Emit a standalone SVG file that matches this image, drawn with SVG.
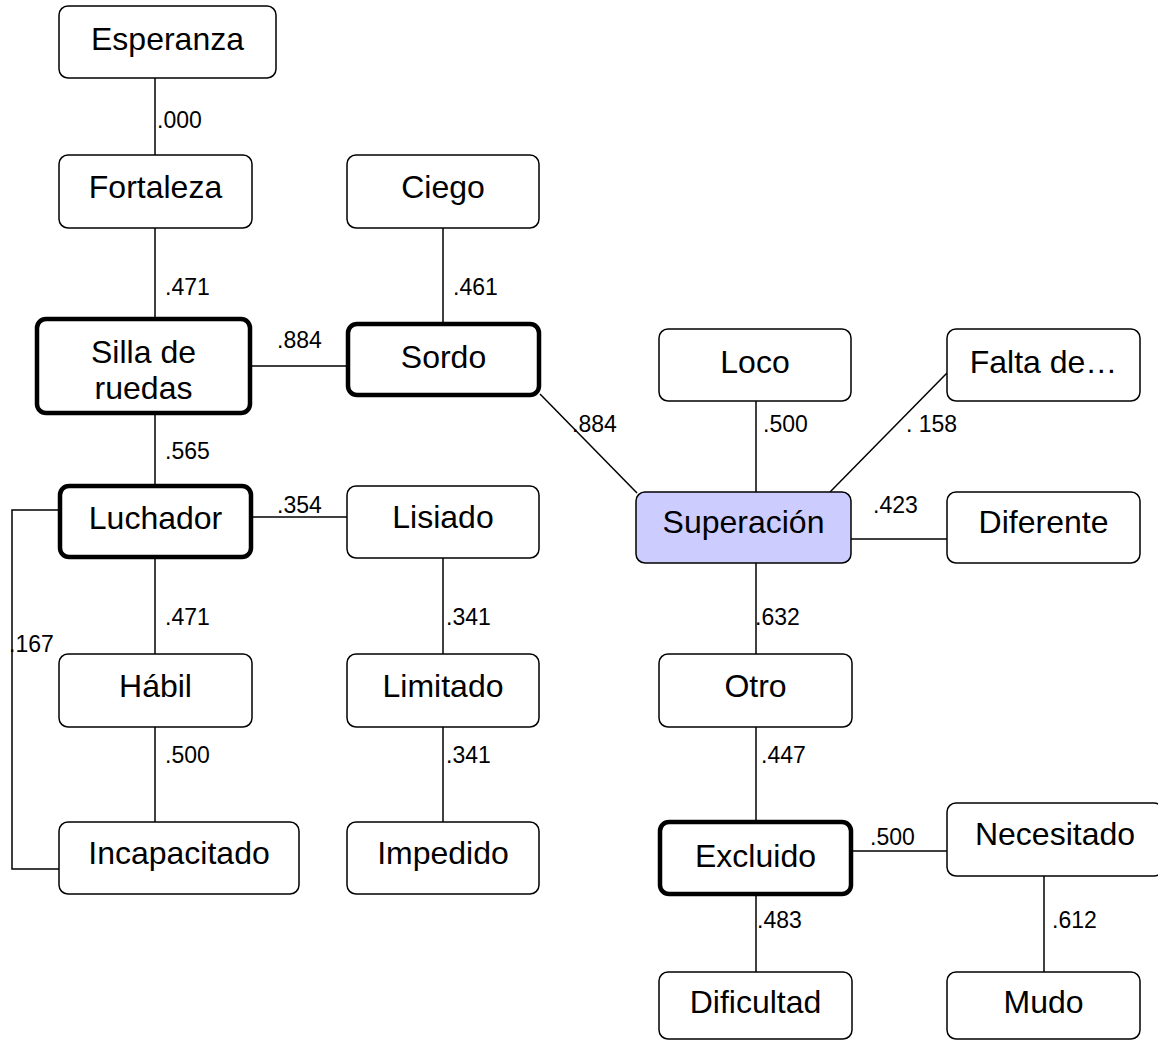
<svg xmlns="http://www.w3.org/2000/svg" width="1158" height="1040" viewBox="0 0 1158 1040">
<style>
.box{fill:#fff;stroke:#000;stroke-width:1.5}
.thick{fill:#fff;stroke:#000;stroke-width:4.5}
.hl{fill:#ccccff;stroke:#000;stroke-width:1.5}
.t{font-family:"Liberation Sans",Arial,sans-serif;font-size:32px;text-anchor:middle;fill:#000}
.l{font-family:"Liberation Sans",Arial,sans-serif;font-size:23px;fill:#000}
.c{fill:none;stroke:#000;stroke-width:1.5}
</style>
<rect width="1158" height="1040" fill="#fff"/>
<g id="connectors">
<line class="c" x1="155" y1="78" x2="155" y2="155"/>
<line class="c" x1="155" y1="228" x2="155" y2="317"/>
<line class="c" x1="443" y1="228" x2="443" y2="322"/>
<line class="c" x1="252" y1="366" x2="346" y2="366"/>
<line class="c" x1="155" y1="415" x2="155" y2="484"/>
<line class="c" x1="253" y1="517" x2="347" y2="517"/>
<line class="c" x1="155" y1="559" x2="155" y2="654"/>
<line class="c" x1="443" y1="558" x2="443" y2="654"/>
<polyline class="c" points="58,510 12,510 12,869 59,869"/>
<line class="c" x1="155" y1="727" x2="155" y2="822"/>
<line class="c" x1="443" y1="727" x2="443" y2="822"/>
<line class="c" x1="540" y1="394" x2="637" y2="493"/>
<line class="c" x1="756" y1="401" x2="756" y2="492"/>
<line class="c" x1="947" y1="373" x2="830" y2="492"/>
<line class="c" x1="851" y1="539" x2="947" y2="539"/>
<line class="c" x1="756" y1="563" x2="756" y2="654"/>
<line class="c" x1="756" y1="727" x2="756" y2="820"/>
<line class="c" x1="853" y1="851" x2="947" y2="851"/>
<line class="c" x1="756" y1="896" x2="756" y2="972"/>
<line class="c" x1="1044" y1="876" x2="1044" y2="972"/>
<text class="l" x="157" y="128">.000</text>
<text class="l" x="165" y="295">.471</text>
<text class="l" x="453" y="295">.461</text>
<text class="l" x="277" y="348">.884</text>
<text class="l" x="165" y="459">.565</text>
<text class="l" x="277" y="513">.354</text>
<text class="l" x="165" y="625">.471</text>
<text class="l" x="446" y="625">.341</text>
<text class="l" x="9" y="652">.167</text>
<text class="l" x="165" y="763">.500</text>
<text class="l" x="446" y="763">.341</text>
<text class="l" x="572" y="432">.884</text>
<text class="l" x="763" y="432">.500</text>
<text class="l" x="906" y="432">. 158</text>
<text class="l" x="873" y="513">.423</text>
<text class="l" x="755" y="625">.632</text>
<text class="l" x="761" y="763">.447</text>
<text class="l" x="870" y="845">.500</text>
<text class="l" x="757" y="928">.483</text>
<text class="l" x="1052" y="928">.612</text>
</g>
<g id="esperanza"><rect class="box" x="59" y="6" width="217" height="72" rx="9"/><text class="t" x="167.5" y="50">Esperanza</text></g>
<g id="fortaleza"><rect class="box" x="59" y="155" width="193" height="73" rx="9"/><text class="t" x="155.5" y="198">Fortaleza</text></g>
<g id="ciego"><rect class="box" x="347" y="155" width="192" height="73" rx="9"/><text class="t" x="443" y="198">Ciego</text></g>
<g id="silla"><rect class="thick" x="37" y="319" width="213" height="94" rx="9"/><text class="t" x="143.5" y="363">Silla de</text><text class="t" x="143.5" y="399">ruedas</text></g>
<g id="sordo"><rect class="thick" x="348" y="324" width="191" height="71" rx="9"/><text class="t" x="443.5" y="368">Sordo</text></g>
<g id="luchador"><rect class="thick" x="60" y="486" width="191" height="71" rx="9"/><text class="t" x="155.5" y="529">Luchador</text></g>
<g id="lisiado"><rect class="box" x="347" y="486" width="192" height="72" rx="9"/><text class="t" x="443" y="528">Lisiado</text></g>
<g id="habil"><rect class="box" x="59" y="654" width="193" height="73" rx="9"/><text class="t" x="155.5" y="697">Hábil</text></g>
<g id="limitado"><rect class="box" x="347" y="654" width="192" height="73" rx="9"/><text class="t" x="443" y="697">Limitado</text></g>
<g id="incapacitado"><rect class="box" x="59" y="822" width="240" height="72" rx="9"/><text class="t" x="179" y="864">Incapacitado</text></g>
<g id="impedido"><rect class="box" x="347" y="822" width="192" height="72" rx="9"/><text class="t" x="443" y="864">Impedido</text></g>
<g id="loco"><rect class="box" x="659" y="329" width="192" height="72" rx="9"/><text class="t" x="755" y="373">Loco</text></g>
<g id="falta"><rect class="box" x="947" y="329" width="193" height="72" rx="9"/><text class="t" x="1043.5" y="373">Falta de…</text></g>
<g id="superacion"><rect class="hl" x="636" y="492" width="215" height="71" rx="9"/><text class="t" x="743.5" y="533">Superación</text></g>
<g id="diferente"><rect class="box" x="947" y="492" width="193" height="71" rx="9"/><text class="t" x="1043.5" y="533">Diferente</text></g>
<g id="otro"><rect class="box" x="659" y="654" width="193" height="73" rx="9"/><text class="t" x="755.5" y="697">Otro</text></g>
<g id="excluido"><rect class="thick" x="660" y="822" width="191" height="72" rx="9"/><text class="t" x="755.5" y="867">Excluido</text></g>
<g id="necesitado"><rect class="box" x="947" y="803" width="216" height="73" rx="9"/><text class="t" x="1055" y="845">Necesitado</text></g>
<g id="dificultad"><rect class="box" x="659" y="972" width="193" height="67" rx="9"/><text class="t" x="755.5" y="1013">Dificultad</text></g>
<g id="mudo"><rect class="box" x="947" y="972" width="193" height="67" rx="9"/><text class="t" x="1043.5" y="1013">Mudo</text></g>
</svg>
